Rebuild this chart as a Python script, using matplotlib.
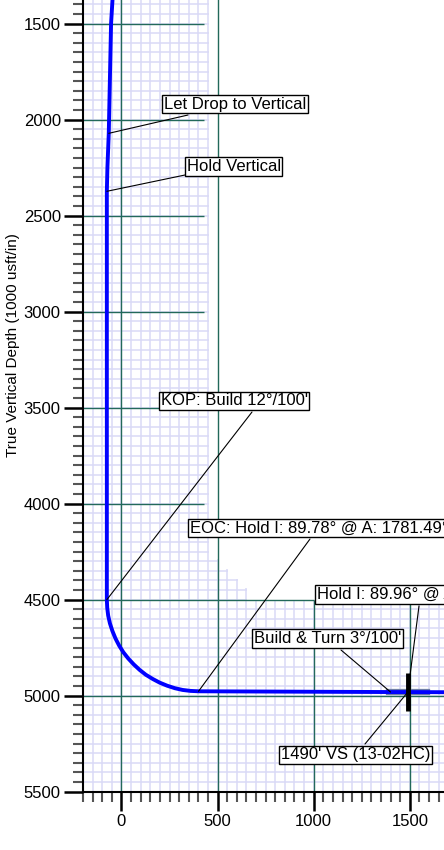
import matplotlib
matplotlib.use('Agg')
import matplotlib.pyplot as plt
from matplotlib.patches import Polygon
import numpy as np

plt.rcParams['font.family'] = ['Liberation Sans', 'DejaVu Sans']

# well path: vertical section (usft) against true vertical depth (usft)
vs = [-42, -54, -66, -73, -76, -76, -74, -69, -60, -47, -31, -12, 10, 36, 64, 94, 127, 163,
      199, 238, 278, 318, 359, 401, 1400, 1490, 1700]
tvd = [1300, 1500, 2071, 2250, 2373, 4500, 4542, 4583, 4623, 4663, 4702, 4739, 4774, 4807,
       4837, 4865, 4891, 4913, 4932, 4948, 4961, 4970, 4975, 4977, 4981, 4981, 4982]

# annotated points on the path
labels = ["Let Drop to Vertical", "Hold Vertical", "KOP: Build 12°/100'",
          "EOC: Hold I: 89.78° @ A: 1781.49°", "Hold I: 89.96° @ A: 1781.49°",
          "Build & Turn 3°/100'", "1490' VS (13-02HC)"]
label_vs = [-66, -76, -76, 401, 1490, 1400, 1490]
label_tvd = [2071, 2373, 4500, 4977, 4981, 4981, 4981]

# lease line and target marker
lease_vs = [1390, 1590]
lease_tvd = [4980, 4980]
target_vs = [1490, 1490]
target_tvd = [4880, 5080]

W, H = 444, 850
fig = plt.figure(figsize=(W / 100, H / 100), dpi=100)
ax = fig.add_axes([83 / W, 58.3 / H, 1 - 83 / W, 1 - 58.3 / H])
ax.set_xlim(-200, 1678)
ax.set_ylim(5500, 1376.6)

# minor grid only covers the area around the well path
region = [(-200, 1300), (455, 1300), (455, 4290), (505, 4290), (505, 4340), (555, 4340),
          (555, 4390), (605, 4390), (605, 4440), (655, 4440), (655, 4500), (1700, 4500),
          (1700, 5500), (-200, 5500)]
clip = Polygon(region, closed=True, transform=ax.transData, fill=False, edgecolor='none')
minor_col = '#dadaf6'
lc1 = ax.vlines(np.arange(-200, 1701, 50), 1300, 5500, colors=minor_col, lw=1.1, zorder=0.5)
lc2 = ax.hlines(np.arange(1300, 5501, 50), -200, 1700, colors=minor_col, lw=1.1, zorder=0.5)
lc1.set_clip_path(clip)
lc2.set_clip_path(clip)

# major grid lines
green = '#22695a'
ax.vlines([0, 500], 1300, 5500, colors=green, lw=1, zorder=1)
ax.vlines([1000, 1500], 4500, 5500, colors=green, lw=1, zorder=1)
ax.hlines([1500, 2000, 2500, 3000, 3500, 4000], -200, 430, colors=green, lw=1, zorder=1)
ax.hlines(4500, -200, 1000, colors=green, lw=1, zorder=1)
ax.hlines(5000, -200, 1700, colors=green, lw=1, zorder=1)

ax.plot(lease_vs, lease_tvd, color='#6f7fa8', lw=4.5, zorder=2)
ax.plot(vs, tvd, color='#0000ff', lw=2.8, zorder=3)
ax.plot(target_vs, target_tvd, color='black', lw=3.5, zorder=4, solid_capstyle='butt')

# label boxes (image pixels: box left, box centre y) and leader starts
box_px = [(162, 104), (185, 166.5), (159, 401), (188, 528), (315, 594.5), (252, 638.5), (279, 755)]
lead_px = [(188, 115), (185, 175), (252, 412), (310, 539), (419, 606), (341, 650), (365, 744)]

for i, lab in enumerate(labels):
    lx, ly = lead_px[i]
    ax.annotate('', xy=(label_vs[i], label_tvd[i]), xycoords='data',
                xytext=(lx / W, 1 - ly / H), textcoords='figure fraction',
                arrowprops=dict(arrowstyle='-', color='black', lw=0.8, shrinkA=0, shrinkB=0),
                zorder=4.5)
    bx, by = box_px[i]
    fig.text((bx + 1.7) / W, 1 - by / H, lab, fontsize=12, ha='left', va='center', zorder=5,
             bbox=dict(boxstyle='square,pad=0.1', facecolor='white', edgecolor='black', lw=1))

ax.set_xticks([0, 500, 1000, 1500])
ax.set_xticks(np.arange(-200, 1680, 50), minor=True)
ax.set_yticks(np.arange(1500, 5501, 500))
ax.set_yticks(np.arange(1400, 5501, 50), minor=True)
ax.tick_params(which='major', length=14, width=1.8, labelsize=12, pad=2)
ax.tick_params(which='minor', length=7.5, width=1.5, color='#555555')

for s in ['top', 'right']:
    ax.spines[s].set_visible(False)
for s in ['left', 'bottom']:
    ax.spines[s].set_linewidth(1.5)

fig.text(13 / W, 1 - 345 / H, 'True Vertical Depth (1000 usft/in)', rotation=90,
         ha='center', va='center', fontsize=11)

fig.savefig('out.png', dpi=100)
